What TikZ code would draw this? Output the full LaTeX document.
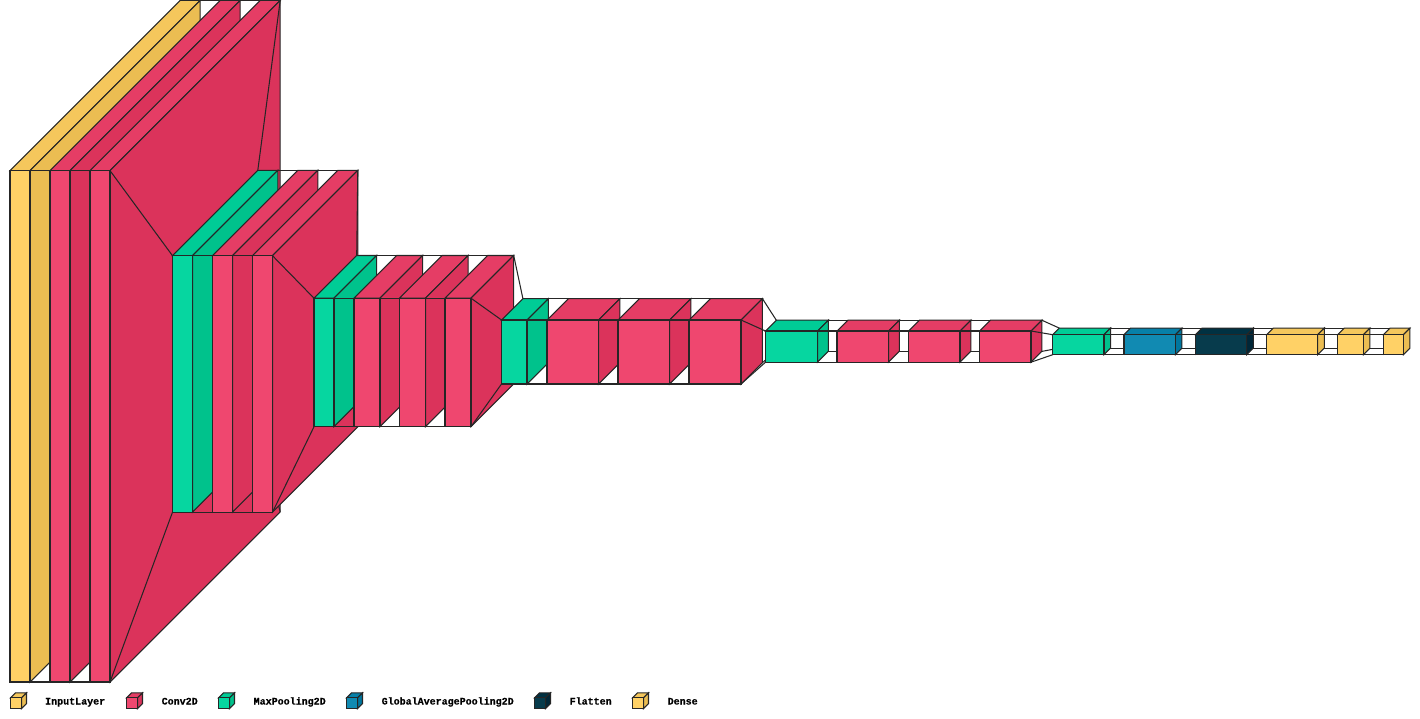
\documentclass[tikz,border=0pt]{standalone}
\usepackage{fontspec}
\setmonofont[BoldFeatures={FakeBold=0.5}]{Liberation Mono}
\usepackage{tikz}
\definecolor{inF}{HTML}{FFD166}\definecolor{inT}{RGB}{245,199,92}\definecolor{inS}{RGB}{235,189,82}
\definecolor{cvF}{HTML}{EF476F}\definecolor{cvT}{RGB}{229,61,101}\definecolor{cvS}{RGB}{219,51,91}
\definecolor{mpF}{HTML}{06D6A0}\definecolor{mpT}{RGB}{0,204,150}\definecolor{mpS}{RGB}{0,194,140}
\definecolor{gaF}{HTML}{118AB2}\definecolor{gaT}{RGB}{7,128,168}\definecolor{gaS}{RGB}{0,118,158}
\definecolor{flF}{HTML}{073B4C}\definecolor{flT}{RGB}{0,49,66}\definecolor{flS}{RGB}{0,39,56}
\tikzset{
  x=1pt,y=-1pt,
  edge/.style={draw=black!85,line width=1.05pt,line join=miter},
  legendtext/.style={font=\ttfamily\bfseries\fontsize{10}{10}\selectfont,anchor=base west,inner sep=0pt,text=black}
}
% #1 name, #2 x1, #3 y1, #4 x2, #5 y2, #6 depth
\newcommand{\kcoords}[6]{%
  \coordinate (#1-a) at (#2,#3);
  \coordinate (#1-b) at (#4,#3);
  \coordinate (#1-c) at (#4,#5);
  \coordinate (#1-d) at (#2,#5);
  \coordinate (#1-e) at ($(#2,#3)+(#6,-#6)$);
  \coordinate (#1-f) at ($(#4,#3)+(#6,-#6)$);
  \coordinate (#1-g) at ($(#4,#5)+(#6,-#6)$);
  \coordinate (#1-h) at ($(#2,#5)+(#6,-#6)$);
}
% #1 name, #2 colour prefix
\newcommand{\kfaces}[2]{%
  \draw[edge] (#1-e) -- (#1-h) -- (#1-d);
  \draw[edge] (#1-h) -- (#1-g);
  \draw[edge,fill=#2T] (#1-a) -- (#1-e) -- (#1-f) -- (#1-b) -- cycle;
  \draw[edge,fill=#2S] (#1-f) -- (#1-b) -- (#1-c) -- (#1-g) -- cycle;
  \draw[edge,fill=#2F] (#1-a) -- (#1-b) -- (#1-c) -- (#1-d) -- cycle;
}
\newcommand{\klink}[2]{%
  \draw[edge] (#1-f) -- (#2-e);
  \draw[edge] (#1-g) -- (#2-h);
  \draw[edge] (#1-c) -- (#2-d);
  \draw[edge] (#1-b) -- (#2-a);
}
\newcommand{\kfirst}[7]{\kcoords{#1}{#3}{#4}{#5}{#6}{#7}\kfaces{#1}{#2}}
% #1 prev, then as \kfirst
\newcommand{\knext}[8]{\kcoords{#2}{#4}{#5}{#6}{#7}{#8}\klink{#1}{#2}\kfaces{#2}{#3}}
\usetikzlibrary{calc}
\begin{document}
\begin{tikzpicture}
\useasboundingbox (0,0) rectangle (1420,719);
% group 1
\kfirst{b1}{in}{10}{170.6}{30}{682}{170.2}
\knext{b1}{b2}{cv}{50}{170.6}{70}{682}{170.2}
\knext{b2}{b3}{cv}{90}{170.6}{110}{682}{170.2}
% group 2
\knext{b3}{b4}{mp}{172.5}{255.7}{192.5}{512.2}{85.3}
\knext{b4}{b5}{cv}{212.5}{255.7}{232.5}{512.2}{85.3}
\knext{b5}{b6}{cv}{252.5}{255.7}{272.5}{512.2}{85.3}
% group 3
\knext{b6}{b7}{mp}{314}{298.2}{334}{426.7}{42.7}
\knext{b7}{b8}{cv}{354}{298.2}{380}{426.7}{42.7}
\knext{b8}{b9}{cv}{399.5}{298.2}{425.5}{426.7}{42.7}
\knext{b9}{b10}{cv}{445}{298.2}{471}{426.7}{42.7}
% group 4
\knext{b10}{b11}{mp}{501.5}{320}{527}{384}{21.4}
\knext{b11}{b12}{cv}{547}{320}{598.5}{384}{21.4}
\knext{b12}{b13}{cv}{618}{320}{669.5}{384}{21.4}
\knext{b13}{b14}{cv}{689}{320}{741}{384}{21.4}
% group 5
\knext{b14}{b15}{mp}{765.5}{331}{817.5}{362.2}{10.8}
\knext{b15}{b16}{cv}{837}{331}{888.5}{362.2}{10.8}
\knext{b16}{b17}{cv}{908.5}{331}{960}{362.2}{10.8}
\knext{b17}{b18}{cv}{979.5}{331}{1031}{362.2}{10.8}
% group 6
\knext{b18}{b19}{mp}{1052.7}{334.7}{1104}{354.7}{6.6}
\knext{b19}{b20}{ga}{1124}{334.7}{1175.3}{354.7}{6.6}
\knext{b20}{b21}{fl}{1195.3}{334.7}{1246.7}{354.7}{6.6}
\knext{b21}{b22}{in}{1266.7}{334.7}{1317.7}{354.7}{6.6}
\knext{b22}{b23}{in}{1337.7}{334.7}{1363.3}{354.7}{6.6}
\knext{b23}{b24}{in}{1383.3}{334.7}{1403.3}{354.7}{6.6}
% legend
\kfirst{k1}{in}{10.5}{697.8}{21.5}{708.5}{5}
\kfirst{k2}{cv}{126.5}{697.8}{137.5}{708.5}{5}
\kfirst{k3}{mp}{218.5}{697.8}{229.5}{708.5}{5}
\kfirst{k4}{ga}{346.5}{697.8}{357.5}{708.5}{5}
\kfirst{k5}{fl}{534.5}{697.8}{545.5}{708.5}{5}
\kfirst{k6}{in}{632.5}{697.8}{643.5}{708.5}{5}
\node[legendtext] (t1) at (45,704.5) {InputLayer};
\node[legendtext] (t2) at (161.5,704.5) {Conv2D};
\node[legendtext] (t3) at (253.5,704.5) {MaxPooling2D};
\node[legendtext] (t4) at (381.5,704.5) {GlobalAveragePooling2D};
\node[legendtext] (t5) at (569.5,704.5) {Flatten};
\node[legendtext] (t6) at (667.5,704.5) {Dense};
\end{tikzpicture}
\end{document}
